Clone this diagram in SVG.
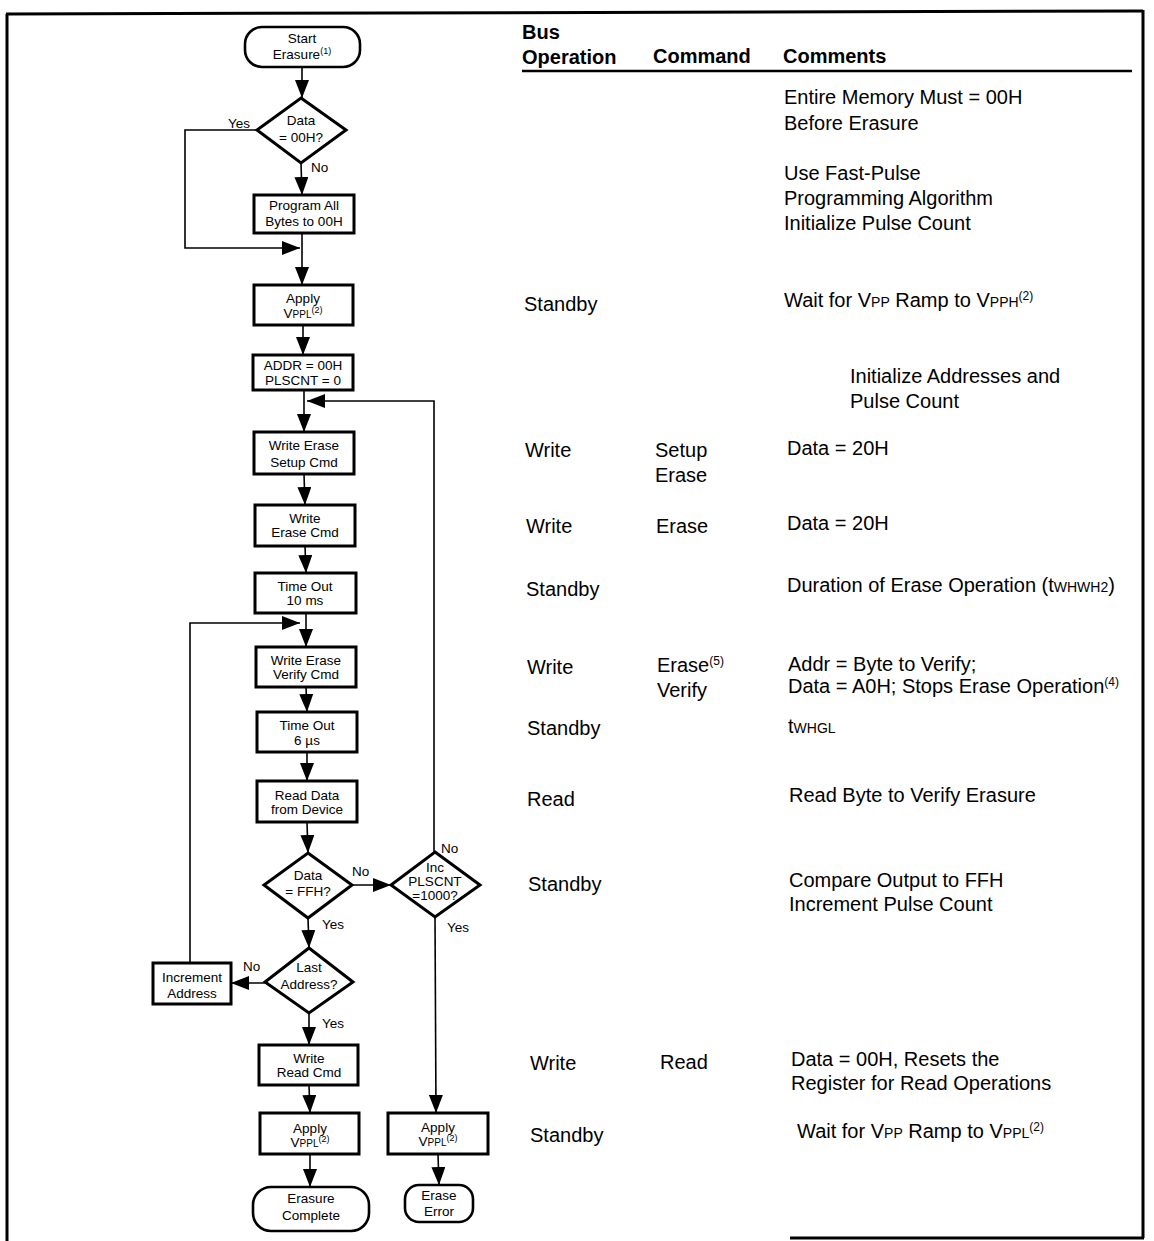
<svg xmlns="http://www.w3.org/2000/svg" width="1154" height="1241" viewBox="0 0 1154 1241">
<defs>
<marker id="ah" markerWidth="18" markerHeight="14" refX="18" refY="7" orient="auto" markerUnits="userSpaceOnUse"><path d="M0,0 L18,7 L0,14 z" fill="#000"/></marker>
<style>
.box{fill:#fff;stroke:#000;stroke-width:3}
.term{fill:#fff;stroke:#000;stroke-width:2.6}
.dia{fill:#fff;stroke:#000;stroke-width:3}
.ft{font-family:"Liberation Sans",Arial,sans-serif;font-size:13.5px;text-anchor:middle;fill:#000}
.lb{font-family:"Liberation Sans",Arial,sans-serif;font-size:13.5px;fill:#000}
.tt{font-family:"Liberation Sans",Arial,sans-serif;font-size:20px;fill:#000}
.th{font-family:"Liberation Sans",Arial,sans-serif;font-size:20px;font-weight:bold;fill:#000}
.cn{fill:none;stroke:#000;stroke-width:1.6}
.fr{fill:none;stroke:#000;stroke-width:3}
</style>
</defs>
<rect x="0" y="0" width="1154" height="1241" fill="#fff"/>
<g id="frame">
<line class="fr" x1="7" y1="14" x2="7" y2="1241"/>
<line class="fr" x1="6" y1="14" x2="1143" y2="11"/>
<line class="fr" x1="1143" y1="10" x2="1143" y2="1238"/>
<line class="fr" x1="790" y1="1238" x2="1144" y2="1238"/>
<line x1="522" y1="71" x2="1132" y2="71" stroke="#000" stroke-width="2.5"/>
</g>
<g id="connectors">
<line class="cn" x1="302" y1="67" x2="302" y2="98" marker-end="url(#ah)"/>
<polyline class="cn" points="257,130 185,130 185,248 300,248" marker-end="url(#ah)"/>
<line class="cn" x1="301" y1="163" x2="302" y2="195" marker-end="url(#ah)"/>
<line class="cn" x1="302" y1="233" x2="302" y2="285" marker-end="url(#ah)"/>
<line class="cn" x1="303" y1="325" x2="303" y2="355" marker-end="url(#ah)"/>
<line class="cn" x1="304" y1="390" x2="304" y2="432" marker-end="url(#ah)"/>
<polyline class="cn" points="434,852 434,401 307,401" marker-end="url(#ah)"/>
<line class="cn" x1="304" y1="474" x2="305" y2="505" marker-end="url(#ah)"/>
<line class="cn" x1="305" y1="546" x2="306" y2="573" marker-end="url(#ah)"/>
<line class="cn" x1="306" y1="613" x2="306" y2="647" marker-end="url(#ah)"/>
<polyline class="cn" points="190,963 190,623 300,623" marker-end="url(#ah)"/>
<line class="cn" x1="306" y1="687" x2="307" y2="712" marker-end="url(#ah)"/>
<line class="cn" x1="307" y1="752" x2="307" y2="781" marker-end="url(#ah)"/>
<line class="cn" x1="307" y1="822" x2="308" y2="853" marker-end="url(#ah)"/>
<line class="cn" x1="352" y1="885" x2="391" y2="885" marker-end="url(#ah)"/>
<line class="cn" x1="308" y1="918" x2="309" y2="948" marker-end="url(#ah)"/>
<line class="cn" x1="265" y1="983" x2="231" y2="983" marker-end="url(#ah)"/>
<line class="cn" x1="309" y1="1013" x2="309" y2="1045" marker-end="url(#ah)"/>
<line class="cn" x1="309" y1="1085" x2="310" y2="1113" marker-end="url(#ah)"/>
<line class="cn" x1="310" y1="1154" x2="310" y2="1187" marker-end="url(#ah)"/>
<line class="cn" x1="435" y1="917" x2="436" y2="1113" marker-end="url(#ah)"/>
<line class="cn" x1="438" y1="1154" x2="439" y2="1185" marker-end="url(#ah)"/>
<text class="lb" x="228" y="128">Yes</text>
<text class="lb" x="311" y="172">No</text>
<text class="lb" x="352" y="876">No</text>
<text class="lb" x="441" y="853">No</text>
<text class="lb" x="447" y="932">Yes</text>
<text class="lb" x="322" y="929">Yes</text>
<text class="lb" x="243" y="971">No</text>
<text class="lb" x="322" y="1028">Yes</text>
</g>
<g id="start"><rect class="term" x="245" y="27" width="115" height="40" rx="17"/><text class="ft" x="302" y="43">Start</text><text class="ft" x="302" y="59">Erasure<tspan dy="-5" font-size="9">(1)</tspan></text></g>
<g id="d1"><polygon class="dia" points="301,98 346,130 301,163 257,130"/><text class="ft" x="301" y="125">Data</text><text class="ft" x="301" y="142">= 00H?</text></g>
<g id="program"><rect class="box" x="254" y="195" width="100" height="38"/><text class="ft" x="304" y="210">Program All</text><text class="ft" x="304" y="226">Bytes to 00H</text></g>
<g id="apply1"><rect class="box" x="254" y="285" width="99" height="40"/><text class="ft" x="303" y="303">Apply</text><text class="ft" x="303" y="318">V<tspan font-size="10">PPL</tspan><tspan dy="-5" font-size="9">(2)</tspan></text></g>
<g id="addr"><rect class="box" x="253" y="355" width="100" height="35"/><text class="ft" x="303" y="370">ADDR = 00H</text><text class="ft" x="303" y="385">PLSCNT = 0</text></g>
<g id="setup"><rect class="box" x="254" y="432" width="100" height="42"/><text class="ft" x="304" y="450">Write Erase</text><text class="ft" x="304" y="467">Setup Cmd</text></g>
<g id="erasecmd"><rect class="box" x="255" y="505" width="100" height="41"/><text class="ft" x="305" y="523">Write</text><text class="ft" x="305" y="537">Erase Cmd</text></g>
<g id="timeout10"><rect class="box" x="255" y="573" width="101" height="40"/><text class="ft" x="305" y="591">Time Out</text><text class="ft" x="305" y="605">10 ms</text></g>
<g id="verify"><rect class="box" x="256" y="647" width="100" height="40"/><text class="ft" x="306" y="665">Write Erase</text><text class="ft" x="306" y="679">Verify Cmd</text></g>
<g id="timeout6"><rect class="box" x="257" y="712" width="100" height="40"/><text class="ft" x="307" y="730">Time Out</text><text class="ft" x="307" y="745">6 µs</text></g>
<g id="readdata"><rect class="box" x="257" y="781" width="100" height="41"/><text class="ft" x="307" y="800">Read Data</text><text class="ft" x="307" y="814">from Device</text></g>
<g id="d2"><polygon class="dia" points="308,853 352,885 308,918 264,885"/><text class="ft" x="308" y="880">Data</text><text class="ft" x="308" y="896">= FFH?</text></g>
<g id="d3"><polygon class="dia" points="435,852 480,885 435,917 391,885"/><text class="ft" x="435" y="872" font-size="12.5">Inc</text><text class="ft" x="435" y="886" font-size="12.5">PLSCNT</text><text class="ft" x="435" y="900" font-size="12.5">=1000?</text></g>
<g id="d4"><polygon class="dia" points="309,948 353,982 309,1013 265,982"/><text class="ft" x="309" y="972">Last</text><text class="ft" x="309" y="989">Address?</text></g>
<g id="incaddr"><rect class="box" x="153" y="963" width="78" height="41"/><text class="ft" x="192" y="982">Increment</text><text class="ft" x="192" y="998">Address</text></g>
<g id="writeread"><rect class="box" x="259" y="1045" width="99" height="40"/><text class="ft" x="309" y="1063">Write</text><text class="ft" x="309" y="1077">Read Cmd</text></g>
<g id="apply2"><rect class="box" x="260" y="1113" width="99" height="41"/><text class="ft" x="310" y="1133">Apply</text><text class="ft" x="310" y="1147">V<tspan font-size="10">PPL</tspan><tspan dy="-5" font-size="9">(2)</tspan></text></g>
<g id="complete"><rect class="term" x="253" y="1187" width="116" height="44" rx="18"/><text class="ft" x="311" y="1203">Erasure</text><text class="ft" x="311" y="1220">Complete</text></g>
<g id="apply3"><rect class="box" x="388" y="1113" width="100" height="41"/><text class="ft" x="438" y="1132">Apply</text><text class="ft" x="438" y="1146">V<tspan font-size="10">PPL</tspan><tspan dy="-5" font-size="9">(2)</tspan></text></g>
<g id="error"><rect class="term" x="405" y="1185" width="68" height="37" rx="14"/><text class="ft" x="439" y="1200">Erase</text><text class="ft" x="439" y="1216">Error</text></g>
<g id="table">
<text class="th" x="522" y="39">Bus</text>
<text class="th" x="522" y="64">Operation</text>
<text class="th" x="653" y="63">Command</text>
<text class="th" x="783" y="63">Comments</text>
<text class="tt" x="784" y="104">Entire Memory Must = 00H</text>
<text class="tt" x="784" y="130">Before Erasure</text>
<text class="tt" x="784" y="180">Use Fast-Pulse</text>
<text class="tt" x="784" y="205">Programming Algorithm</text>
<text class="tt" x="784" y="230">Initialize Pulse Count</text>
<text class="tt" x="524" y="311">Standby</text>
<text class="tt" x="784" y="307">Wait for V<tspan font-size="14">PP</tspan> Ramp to V<tspan font-size="14">PPH</tspan><tspan dy="-7" font-size="12">(2)</tspan></text>
<text class="tt" x="850" y="383">Initialize Addresses and</text>
<text class="tt" x="850" y="408">Pulse Count</text>
<text class="tt" x="525" y="457">Write</text>
<text class="tt" x="655" y="457">Setup</text>
<text class="tt" x="655" y="482">Erase</text>
<text class="tt" x="787" y="455">Data = 20H</text>
<text class="tt" x="526" y="533">Write</text>
<text class="tt" x="656" y="533">Erase</text>
<text class="tt" x="787" y="530">Data = 20H</text>
<text class="tt" x="526" y="596">Standby</text>
<text class="tt" x="787" y="592">Duration of Erase Operation (t<tspan font-size="14">WHWH2</tspan>)</text>
<text class="tt" x="527" y="674">Write</text>
<text class="tt" x="657" y="672">Erase<tspan dy="-7" font-size="12">(5)</tspan></text>
<text class="tt" x="657" y="697">Verify</text>
<text class="tt" x="788" y="671">Addr = Byte to Verify;</text>
<text class="tt" x="788" y="693">Data = A0H; Stops Erase Operation<tspan dy="-7" font-size="12">(4)</tspan></text>
<text class="tt" x="527" y="735">Standby</text>
<text class="tt" x="788" y="733">t<tspan font-size="14">WHGL</tspan></text>
<text class="tt" x="527" y="806">Read</text>
<text class="tt" x="789" y="802">Read Byte to Verify Erasure</text>
<text class="tt" x="528" y="891">Standby</text>
<text class="tt" x="789" y="887">Compare Output to FFH</text>
<text class="tt" x="789" y="911">Increment Pulse Count</text>
<text class="tt" x="530" y="1070">Write</text>
<text class="tt" x="660" y="1069">Read</text>
<text class="tt" x="791" y="1066">Data = 00H, Resets the</text>
<text class="tt" x="791" y="1090">Register for Read Operations</text>
<text class="tt" x="530" y="1142">Standby</text>
<text class="tt" x="797" y="1138">Wait for V<tspan font-size="14">PP</tspan> Ramp to V<tspan font-size="14">PPL</tspan><tspan dy="-7" font-size="12">(2)</tspan></text>
</g>
</svg>
